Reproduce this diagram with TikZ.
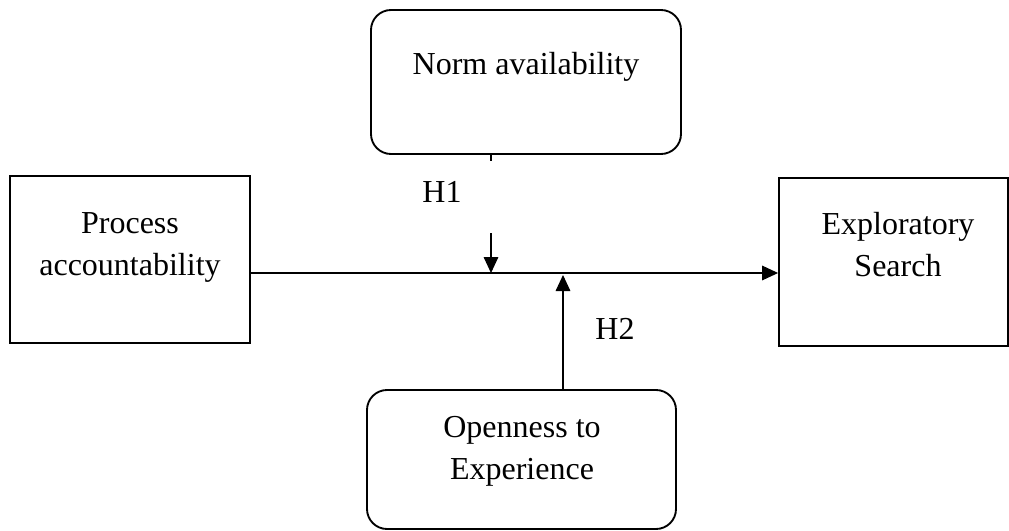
\documentclass[tikz,border=0pt]{standalone}
\usepackage{fontspec}
\setmainfont{Liberation Serif}
\usetikzlibrary{arrows.meta}
\begin{document}
\begin{tikzpicture}[x=0.75pt,y=-0.75pt,
  every node/.style={font=\fontsize{24}{31.5}\selectfont},
  sqbox/.style={draw,line width=1.4pt,rectangle,inner sep=0pt},
  rdbox/.style={draw,line width=1.4pt,rectangle,rounded corners=15pt,inner sep=0pt},
  txt/.style={inner sep=0pt,align=center},
  conn/.style={line width=0.8pt},
  arr/.style={line width=0.8pt,-{Triangle[length=12pt,width=11pt]}}]
\useasboundingbox (0,0) rectangle (1009,531);
% boxes
\node[sqbox,minimum width=180pt,minimum height=125.25pt] (proc) at (130,259.5) {};
\node[sqbox,minimum width=171.75pt,minimum height=126pt] (expl) at (893.5,262) {};
\node[rdbox,minimum width=232.5pt,minimum height=108pt] (norm) at (526,82) {};
\node[rdbox,minimum width=231.75pt,minimum height=104.25pt] (open) at (521.5,459.5) {};
% texts
\node[txt] (proctxt) at (130,247) {Process\\accountability};
\node[txt] (expltxt) at (898,245) {Exploratory\\Search};
\node[txt,anchor=base] (normtxt) at (526,75) {Norm availability};
\node[txt] (opentxt) at (522,451) {Openness to\\Experience};
\node[txt,anchor=base] (h1) at (442,202) {H1};
\node[txt,anchor=base] (h2) at (615,339) {H2};
% connector coordinates
\coordinate (mid) at (0,273);
\coordinate (h1x) at (491,0);
\coordinate (h1s) at (491,233);
\coordinate (h1e) at (491,273);
\coordinate (h2x) at (563,0);
\coordinate (h2e) at (563,275);
% connectors
\draw[arr] (proc.east |- mid) -- (expl.west |- mid);
\draw[conn] (norm.south -| h1x) -- ++(0,6);
\draw[arr] (h1s) -- (h1e);
\draw[arr] (open.north -| h2x) -- (h2e);
\end{tikzpicture}
\end{document}
